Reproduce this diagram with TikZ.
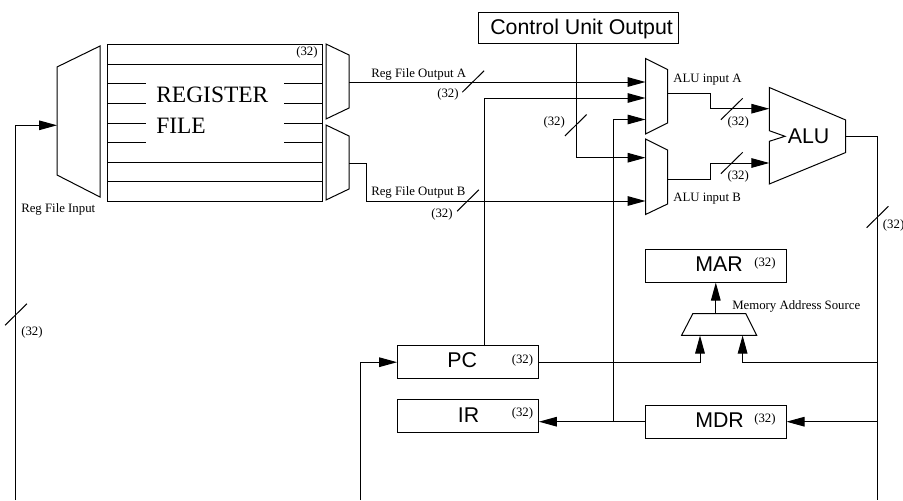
\documentclass[tikz,border=0pt]{standalone}
\usepackage{fontspec}
\setmainfont{Liberation Serif}
\newfontfamily\armfont{Liberation Sans}
\usepackage{tikz}
\usetikzlibrary{arrows.meta,positioning,calc}
\tikzset{
  wire/.style={line width=0.75pt},
  arrowwire/.style={wire,-{Triangle[length=13.5pt,width=7.2pt]}},
  shapeline/.style={line width=0.75pt,line join=miter},
  regbox/.style={draw,line width=0.75pt,minimum width=105.6pt,minimum height=24.5pt,inner sep=0pt},
  smalltext/.style={anchor=base west,inner sep=0pt,font=\fontsize{9.6pt}{11pt}\selectfont},
  bigtext/.style={anchor=base west,inner sep=0pt,font=\armfont\fontsize{16pt}{18pt}\selectfont},
  regtext/.style={anchor=base west,inner sep=0pt,font=\fontsize{17.6pt}{20pt}\selectfont},
}
\begin{document}
\begin{tikzpicture}[x=0.75pt,y=-0.75pt]
\useasboundingbox (0,0) rectangle (903,500);
% register file
\draw[shapeline] (107,44.5) rectangle (322.5,201);
\foreach \y in {64,162,181.5} \draw[wire] (107,\y)--(322.5,\y);
\foreach \y in {83.5,103,123,142.5} {
  \draw[wire] (107,\y)--(146,\y);
  \draw[wire] (284,\y)--(322.5,\y);
}
\node[regtext] (RegA) at (156,102.7) {REGISTER};
\node[regtext] (RegB) at (156,133.3) {FILE};
% muxes
\draw[shapeline] (57,67)--(100,46)--(100,197)--(57,175)--cycle;
\draw[shapeline] (326,44)--(349,55)--(349,108)--(326,119)--cycle;
\draw[shapeline] (326,125)--(349,136)--(349,189)--(326,200)--cycle;
\draw[shapeline] (645.5,58.5)--(667.5,69.5)--(667.5,123)--(645.5,134)--cycle;
\draw[shapeline] (645.5,139)--(667.5,150)--(667.5,204)--(645.5,214.5)--cycle;
\draw[shapeline] (692.9,313.5)--(745.8,313.5)--(756.7,335.3)--(681.6,335.3)--cycle;
\draw[shapeline] (769.3,87.5)--(845.7,120)--(845.7,152.5)--(769.3,184)--(769.3,141.3)--(785,136.3)--(769.3,130.7)--cycle;
% boxes
\node[draw,line width=0.75pt,minimum width=149.5pt,minimum height=23.6pt,inner sep=0pt] (CU) at (578.4,28.2) {};
\node[regbox] (PC) at (468,362.2) {};
\node[regbox] (IR) at (468,416.2) {};
\node[regbox] (MDR) at (715.6,421.7) {};
\node[regbox] (MAR) at (715.6,265.7) {};
% ports
\coordinate (InL) at (57,125.3);
\coordinate (LeftEnd) at (15.7,500);
\coordinate (OutA) at (349,82);
\coordinate (OutB) at (349,163);
\coordinate (BendB) at (366,201);
\coordinate (AlA1) at (645.5,82);
\coordinate (AlA2) at (645.5,98);
\coordinate (AlA3) at (645.5,119.5);
\coordinate (AlB1) at (645.5,157.7);
\coordinate (AlB2) at (645.5,201);
\coordinate (MuxAOut) at (667.5,93);
\coordinate (MuxBOut) at (667.5,179.3);
\coordinate (AluInA) at (769.3,108.7);
\coordinate (AluInB) at (769.3,163);
\coordinate (BendA) at (710.7,108.7);
\coordinate (BendC) at (710.7,163);
\coordinate (AluOut) at (845.7,136);
\coordinate (RightEnd) at (877.3,500);
\coordinate (MemIn1) at (700,335.5);
\coordinate (MemIn2) at (742.6,335.5);
\coordinate (MemOut) at (715.8,313.5);
\coordinate (PcEnd) at (360,500);
\coordinate (Split) at (613.7,421.7);
\coordinate (CuOut) at (576,44);
\coordinate (PcOut) at (484,346);
% wires
\draw[arrowwire] (LeftEnd)|-(InL);
\draw[arrowwire] (OutA)--(AlA1);
\draw[arrowwire] (OutB)-|(BendB)--(AlB2);
\draw[arrowwire] (CuOut)|-(AlB1);
\draw[arrowwire] (PcOut)|-(AlA2);
\draw[arrowwire] (Split)|-(AlA3);
\draw[wire] (MuxAOut)-|(BendA);
\draw[arrowwire] (BendA)--(AluInA);
\draw[wire] (MuxBOut)-|(BendC);
\draw[arrowwire] (BendC)--(AluInB);
\draw[wire] (AluOut)-|(RightEnd);
\draw[arrowwire] (MemOut)--(MAR.south -| MemOut);
\draw[arrowwire] (PC.east)-|(MemIn1);
\draw[arrowwire] (PC.east -| RightEnd)-|(MemIn2);
\draw[arrowwire] (MDR.east -| RightEnd)--(MDR.east);
\draw[arrowwire] (MDR.west)--(MDR.west -| IR.east);
\draw[arrowwire] (PcEnd)|-(PC.west);
% slashes
\coordinate (SlashA) at (473.2,81.5);
\coordinate (SlashB) at (468,200.5);
\coordinate (SlashC) at (575.8,125.2);
\coordinate (SlashD) at (731.8,109);
\coordinate (SlashE) at (731.8,163);
\coordinate (SlashF) at (877.5,217);
\coordinate (SlashG) at (16,314.5);
\foreach \s in {SlashA,SlashB,SlashC,SlashD,SlashE,SlashF,SlashG}
  \draw[wire] ($(\s)+(-10.9,10.7)$)--($(\s)+(10.9,-10.7)$);
% labels
\node[smalltext] (LInput) at (21,212) {Reg File Input};
\node[smalltext] (LOutA) at (371,77) {Reg File Output A};
\node[smalltext] (LOutB) at (371,195.3) {Reg File Output B};
\node[smalltext] (LAluA) at (673,82) {ALU input A};
\node[smalltext] (LAluB) at (673,201) {ALU input B};
\node[smalltext] (LMem) at (732,309.3) {Memory Address Source};
\node[smalltext] (WReg) at (296,55) {(32)};
\node[smalltext] (WA) at (437,97.3) {(32)};
\node[smalltext] (WB) at (431,217.3) {(32)};
\node[smalltext] (WC) at (543.3,125.3) {(32)};
\node[smalltext] (WD) at (727.3,125.7) {(32)};
\node[smalltext] (WE) at (727.3,179.7) {(32)};
\node[smalltext] (WF) at (882.7,228.3) {(32)};
\node[smalltext] (WG) at (21,335) {(32)};
\node[smalltext] (WPC) at (511.5,363) {(32)};
\node[smalltext] (WIR) at (511.5,416.7) {(32)};
\node[smalltext] (WMDR) at (754,422.7) {(32)};
\node[smalltext] (WMAR) at (754,266) {(32)};
\node[bigtext] (LCU) at (490,34) {Control Unit Output};
\node[bigtext] (LAlu) at (787.5,143.3) {ALU};
\node[bigtext] (LPC) at (447,367.7) {PC};
\node[bigtext] (LIR) at (457.6,422) {IR};
\node[bigtext] (LMDR) at (695,427.3) {MDR};
\node[bigtext] (LMAR) at (695,271) {MAR};
\end{tikzpicture}
\end{document}
